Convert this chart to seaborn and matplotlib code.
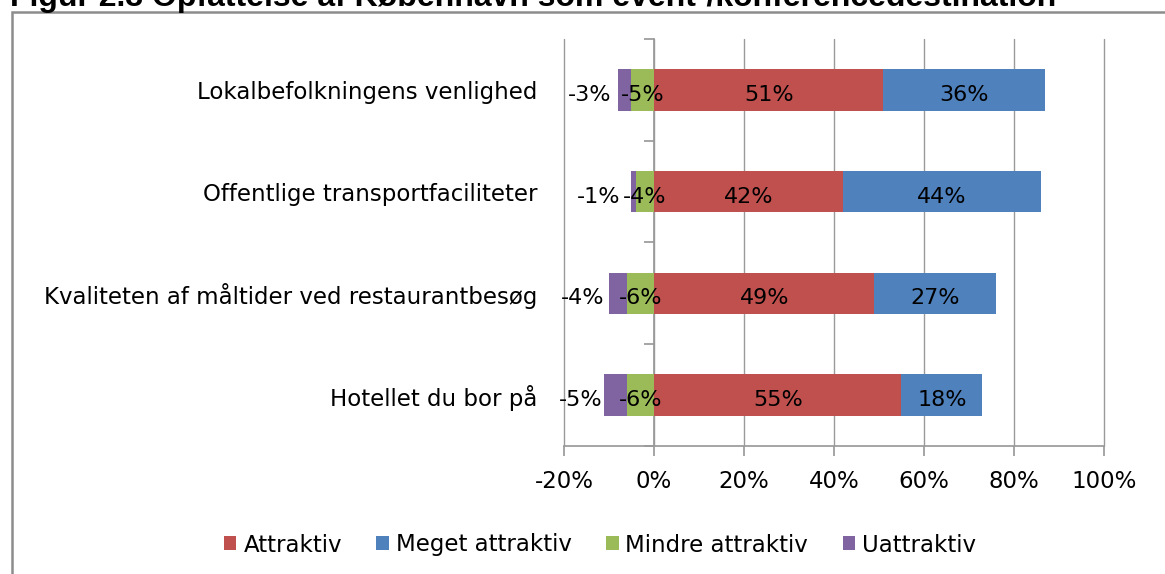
import numpy as np
import pandas as pd
import seaborn as sns
import matplotlib.pyplot as plt
from matplotlib.patches import Rectangle

# data
categories = ["Lokalbefolkningens venlighed", "Offentlige transportfaciliteter",
              "Kvaliteten af måltider ved restaurantbesøg", "Hotellet du bor på"]
attraktiv = [51, 42, 49, 55]
meget_attraktiv = [36, 44, 27, 18]
mindre_attraktiv = [5, 4, 6, 6]
uattraktiv = [3, 1, 4, 5]
xtick_values = [-20, 0, 20, 40, 60, 80, 100]
xtick_labels = ["-20%", "0%", "20%", "40%", "60%", "80%", "100%"]
title = "Figur 2.3 Opfattelse af København som event-/konferencedestination"

red, blue, green, purple = "#C0504D", "#4F81BD", "#9BBB59", "#8064A2"
grey = "#9a9a9a"

sns.set_theme(style="white")
plt.rcParams['font.family'] = ['DejaVu Sans']
plt.rcParams['text.color'] = 'black'
plt.rcParams['xtick.color'] = 'black'
plt.rcParams['ytick.color'] = 'black'

df = pd.DataFrame({'kategori': categories,
                   'attraktiv': attraktiv,
                   'meget': meget_attraktiv,
                   'mindre': mindre_attraktiv,
                   'uattr': uattraktiv})
df['pos_total'] = df['attraktiv'] + df['meget']
df['neg_total'] = -(df['mindre'] + df['uattr'])
df['neg_mindre'] = -df['mindre']

fig = plt.figure(figsize=(11.65, 5.74), dpi=100)
ax = fig.add_axes([0.4841, 0.2230, 0.4635, 0.7091])

# stacked by layering cumulative bars
bar_kw = dict(y='kategori', width=0.41, saturation=1, ax=ax, linewidth=0)
sns.barplot(data=df, x='pos_total', color=blue, label='Meget attraktiv', **bar_kw)
sns.barplot(data=df, x='attraktiv', color=red, label='Attraktiv', **bar_kw)
sns.barplot(data=df, x='neg_total', color=purple, label='Uattraktiv', **bar_kw)
sns.barplot(data=df, x='neg_mindre', color=green, label='Mindre attraktiv', **bar_kw)

handles, labels = ax.get_legend_handles_labels()
if ax.get_legend() is not None:
    ax.get_legend().remove()

# labels in the segments
for i, row in df.iterrows():
    y = i + 0.05
    ax.text(row['attraktiv'] / 2, y, f"{row['attraktiv']}%", ha='center', va='center', fontsize=16)
    ax.text(row['attraktiv'] + row['meget'] / 2, y, f"{row['meget']}%", ha='center', va='center', fontsize=16)
    ax.text(-row['mindre'] / 2, y, f"-{row['mindre']}%", ha='center', va='center', fontsize=16)
    ax.text(-(row['mindre'] + row['uattr'] / 2) - 7.8, y, f"-{row['uattr']}%",
            ha='center', va='center', fontsize=16)

ax.set_xlim(-20, 100)
ax.set_xticks(xtick_values)
ax.set_xticklabels(xtick_labels)
ax.set_xlabel("")
ax.set_ylabel("")
ax.xaxis.grid(True, color=grey, linewidth=1)
ax.yaxis.grid(False)
for line in ax.get_xgridlines():
    line.set_clip_on(False)
for side in ['top', 'right', 'left']:
    ax.spines[side].set_visible(False)
ax.spines['bottom'].set_color(grey)
ax.tick_params(axis='x', direction='out', length=7, color=grey, bottom=True,
               pad=10, labelsize=16.5, labelcolor='black')
ax.tick_params(axis='y', length=0, pad=19, labelsize=16.5, labelcolor='black')

# category axis at 0 with ticks between categories
sec = ax.secondary_yaxis(20 / 120)
sec.set_yticks([-0.5, 0.5, 1.5, 2.5, 3.5])
sec.set_yticklabels([])
sec.tick_params(length=7, color=grey, direction='out')
sec.spines['left'].set_color(grey)

# legend
order = ['Attraktiv', 'Meget attraktiv', 'Mindre attraktiv', 'Uattraktiv']
hmap = dict(zip(labels, handles))
fig.legend([hmap[l] for l in order], order, loc='center', bbox_to_anchor=(0.515, 1 - 545 / 574),
           ncol=4, frameon=False, fontsize=16.5, handlelength=0.55, handleheight=0.55,
           handletextpad=0.3, columnspacing=1.5, labelcolor='black')

# outer chart frame and cropped title
fig.add_artist(Rectangle((12 / 1165, -0.1), 1.2, 1.1 - 12 / 574, transform=fig.transFigure,
                         fill=False, edgecolor='#8c8c8c', linewidth=1.8, clip_on=False))
fig.text(10 / 1165, 1 - 6 / 574, title, fontsize=23, fontweight='bold',
         family=['Liberation Sans', 'DejaVu Sans'], va='baseline')

fig.savefig('out.png', dpi=100)
